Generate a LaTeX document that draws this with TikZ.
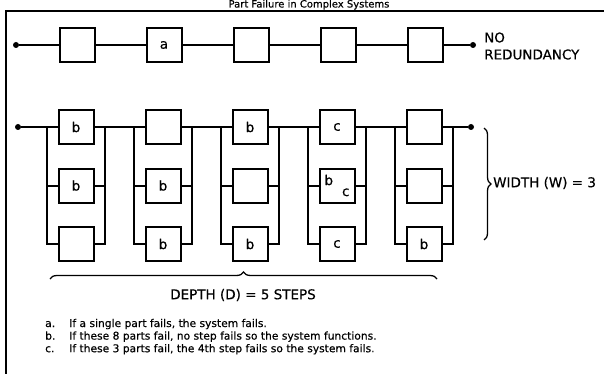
\documentclass[tikz,border=0pt]{standalone}
\usepackage{fontspec}
\setmainfont{DejaVu Sans}[FakeBold=0.4]
\usetikzlibrary{positioning, decorations.pathreplacing}

\begin{document}
\begin{tikzpicture}[x=1pt, y=-1pt, node distance=50pt,
    part/.style={rectangle, draw, line width=2pt, minimum width=35pt, minimum height=34pt, inner sep=0pt, font=\fontsize{13.5}{15}\selectfont},
    terminal/.style={circle, fill, inner sep=0pt, minimum size=6pt},
    line/.style={draw, line width=2pt},
    curly/.style={decorate, decoration={brace, amplitude=7pt}, line width=1.3pt},
    caption/.style={font=\fontsize{13.5}{17}\selectfont, inner sep=0pt}]

    \useasboundingbox (0,0) rectangle (604,374);
    \draw [line width=1.5pt] (6,374) -- (6,11) -- (604,11);
    \node [caption, anchor=base, font=\fontsize{10}{12}\selectfont] (title) at (309,7.5) {Part Failure in Complex Systems};

    % series chain
    \node [terminal] (s1) at (16,45) {};
    \node [part] (t1) at (77,45) {};
    \node [part, right=of t1] (t2) {a};
    \node [part, right=of t2] (t3) {};
    \node [part, right=of t3] (t4) {};
    \node [part, right=of t4] (t5) {};
    \node [terminal] (e1) at (473,45) {};
    \node [caption, anchor=west, align=left] (nored) at (484,46) {NO\\REDUNDANCY};

    \path [line] (s1) -- (t1);
    \path [line] (t1) -- (t2);
    \path [line] (t2) -- (t3);
    \path [line] (t3) -- (t4);
    \path [line] (t4) -- (t5);
    \path [line] (t5) -- (e1);

    % parallel steps, three parts each
    \node [terminal] (s2) at (18,127) {};
    \node [part] (p11) at (76,127) {b};
    \node [part, below=22.5pt of p11] (p12) {b};
    \node [part, below=22.5pt of p12] (p13) {};
    \node [part, right=of p11] (p21) {};
    \node [part, below=22.5pt of p21] (p22) {b};
    \node [part, below=22.5pt of p22] (p23) {b};
    \node [part, right=of p21] (p31) {b};
    \node [part, below=22.5pt of p31] (p32) {};
    \node [part, below=22.5pt of p32] (p33) {b};
    \node [part, right=of p31] (p41) {c};
    \node [part, below=22.5pt of p41] (p42) {\raisebox{5pt}{b}\hspace{9pt}\raisebox{-6pt}{c}};
    \node [part, below=22.5pt of p42] (p43) {c};
    \node [part, right=of p41] (p51) {};
    \node [part, below=22.5pt of p51] (p52) {};
    \node [part, below=22.5pt of p52] (p53) {b};
    \node [terminal] (e2) at (471,127) {};

    \path [line] (s2) -- (p11);
    \path [line] (p11) -- (p21);
    \path [line] (p21) -- (p31);
    \path [line] (p31) -- (p41);
    \path [line] (p41) -- (p51);
    \path [line] (p51) -- (e2);

    % rails
    \path [line] (p11.west) -- ++(-10.5,0) |- (p13.west);
    \path [line] (p12.west) -- ++(-10.5,0);
    \path [line] (p11.east) -- ++(10.5,0) |- (p13.east);
    \path [line] (p12.east) -- ++(10.5,0);
    \path [line] (p21.west) -- ++(-10.5,0) |- (p23.west);
    \path [line] (p22.west) -- ++(-10.5,0);
    \path [line] (p21.east) -- ++(10.5,0) |- (p23.east);
    \path [line] (p22.east) -- ++(10.5,0);
    \path [line] (p31.west) -- ++(-10.5,0) |- (p33.west);
    \path [line] (p32.west) -- ++(-10.5,0);
    \path [line] (p31.east) -- ++(10.5,0) |- (p33.east);
    \path [line] (p32.east) -- ++(10.5,0);
    \path [line] (p41.west) -- ++(-10.5,0) |- (p43.west);
    \path [line] (p42.west) -- ++(-10.5,0);
    \path [line] (p41.east) -- ++(10.5,0) |- (p43.east);
    \path [line] (p42.east) -- ++(10.5,0);
    \path [line] (p51.west) -- ++(-10.5,0) |- (p53.west);
    \path [line] (p52.west) -- ++(-10.5,0);
    \path [line] (p51.east) -- ++(10.5,0) |- (p53.east);
    \path [line] (p52.east) -- ++(10.5,0);

    % braces
    \coordinate (wt) at (484,128);
    \coordinate (wb) at (484,240);
    \draw [curly] (wt) -- (wb);
    \node [caption, anchor=west] (width) at (493,183) {WIDTH (W) = 3};
    \coordinate (dl) at (50,279);
    \coordinate (dr) at (437,279);
    \draw [curly] (dl) -- (dr);
    \node [caption] (depth) at (243,295) {DEPTH (D) = 5 STEPS};

    \node [anchor=base west, inner sep=0pt, font=\fontsize{10.7}{12.6}\selectfont] (notes) at (45,327)
        {\begin{tabular}[t]{@{}p{24pt}@{}l@{}}
        a. & If a single part fails, the system fails.\\
        b. & If these 8 parts fail, no step fails so the system functions.\\
        c. & If these 3 parts fail, the 4th step fails so the system fails.
        \end{tabular}};
\end{tikzpicture}
\end{document}
